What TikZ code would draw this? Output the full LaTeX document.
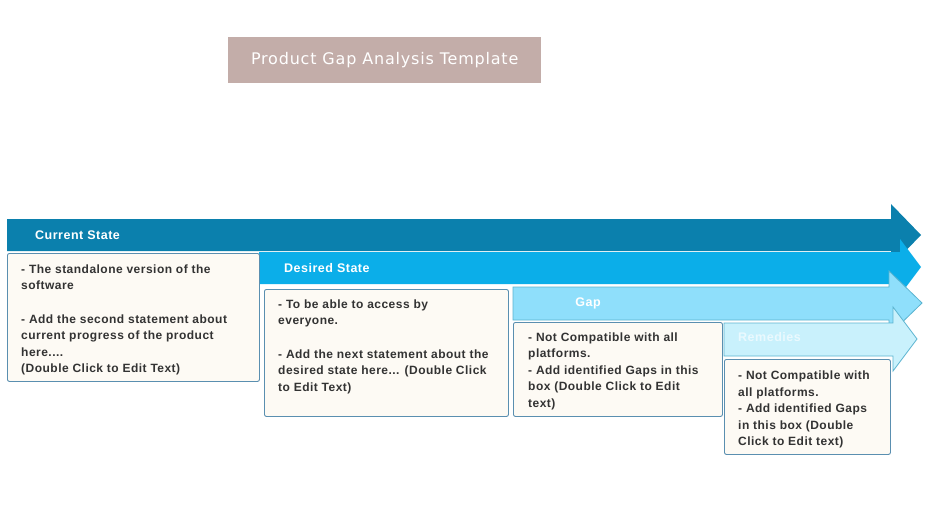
\documentclass[tikz,border=0pt]{standalone}
\usepackage{fontspec}
\setmainfont{Liberation Sans}
\newfontfamily\titlefont[LetterSpace=5]{DejaVu Sans}
\newfontfamily\boxfont[LetterSpace=4]{Liberation Sans}
\definecolor{arA}{HTML}{0B80AD}
\definecolor{arB}{HTML}{0BAEE9}
\definecolor{arC}{HTML}{8FDFFB}
\definecolor{arD}{HTML}{C9F1FC}
\definecolor{arEdge}{HTML}{5BB4D0}
\definecolor{boxFill}{HTML}{FDFAF4}
\definecolor{boxEdge}{HTML}{5A8FB0}
\definecolor{titleFill}{HTML}{C3ADA9}
\definecolor{txtCol}{HTML}{333333}
\definecolor{remCol}{HTML}{EAF9FE}
\tikzset{
  cbox/.style={draw=boxEdge, line width=0.9pt, fill=boxFill, rounded corners=2pt, anchor=north west, inner sep=0pt},
  ctext/.style={anchor=north west, align=left, inner sep=0pt, text=txtCol, font=\boxfont\bfseries\fontsize{12}{16.4}\selectfont},
  alabel/.style={font=\boxfont\bfseries\fontsize{12.5}{14}\selectfont, text=white, inner sep=0pt},
}
\begin{document}
\begin{tikzpicture}[x=1pt,y=-1pt]
\useasboundingbox[fill=white] (0,0) rectangle (936,522);
% title
\node[fill=titleFill, minimum width=313, minimum height=46, anchor=north west, inner sep=0pt] (title) at (228,37) {};
\node[text=white, font=\titlefont\fontsize{16}{18}\selectfont] (titletxt) at (title.center) {Product Gap Analysis Template};
% arrows
\fill[arA] (7,219) -- (891,219) -- (891,204) -- (921,235) -- (891,266) -- (891,251) -- (7,251) -- cycle;
\fill[arB] (259,252) -- (900,252) -- (900,239) -- (921,267) -- (900,295) -- (900,284) -- (259,284) -- cycle;
\filldraw[fill=arC, draw=arEdge, line width=0.8pt] (513,287) -- (889,287) -- (889,271) -- (922,303) -- (889,335) -- (889,320) -- (513,320) -- cycle;
\filldraw[fill=arD, draw=arEdge, line width=0.8pt] (724,323) -- (893,323) -- (893,307) -- (917,339) -- (893,371) -- (893,356) -- (724,356) -- cycle;
% arrow labels
\node[alabel, anchor=west] (l1) at (35,235) {Current State};
\node[alabel, anchor=west] (l2) at (284,268) {Desired State};
\node[alabel] (l3) at (588,303) {Gap};
\node[alabel, text=remCol, anchor=west] (l4) at (738,337) {Remedies};
% boxes
\node[cbox, minimum width=252, minimum height=128] (b1) at (7,253) {};
\node[cbox, minimum width=244, minimum height=127] (b2) at (264,289) {};
\node[cbox, minimum width=209, minimum height=94] (b3) at (513,322) {};
\node[cbox, minimum width=166, minimum height=95] (b4) at (724,359) {};
% texts
\node[ctext] (t1) at (21,264.5) {- The standalone version of the\\software\\[17pt]- Add the second statement about\\current progress of the product\\here....\\(Double Click to Edit Text)};
\node[ctext] (t2) at (278,299.5) {- To be able to access by\\everyone.\\[17pt]- Add the next statement about the\\desired state here... (Double Click\\to Edit Text)};
\node[ctext] (t3) at (528,332.5) {- Not Compatible with all\\platforms.\\- Add identified Gaps in this\\box (Double Click to Edit\\text)};
\node[ctext] (t4) at (738,371) {- Not Compatible with\\all platforms.\\- Add identified Gaps\\in this box (Double\\Click to Edit text)};
\end{tikzpicture}
\end{document}
